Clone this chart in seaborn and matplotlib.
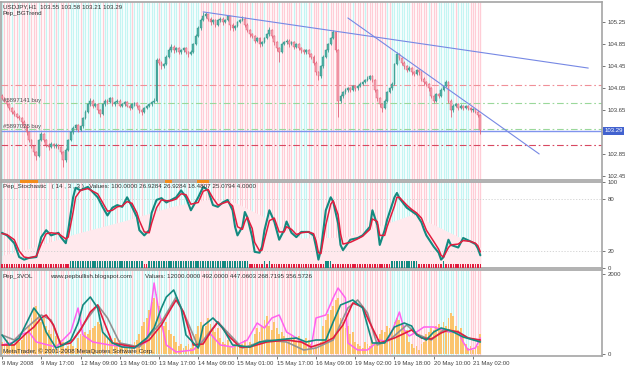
import matplotlib
matplotlib.use("Agg")
import matplotlib.pyplot as plt
import matplotlib.transforms as mtrans
import numpy as np
import pandas as pd
import seaborn as sns

sns.set_style("white")
plt.rcParams["font.family"] = ["Liberation Sans", "DejaVu Sans"]

# ---------------------------------------------------------------------------
# USDJPY H1, 9 May 2008 .. 21 May 2008 -- prices in pips above 103.00
# ---------------------------------------------------------------------------
FIRST_OPEN = 90
CLOSE = [
    86, 82, 75, 68, 61, 57, 53, 50, 43, 35,
    24, 10, -1, -12, -19, 10, 21, 10, 1, -3,
    3, -1, 1, -3, -12, -26, -8, 10, 24, 32,
    37, 28, 35, 50, 61, 75, 82, 72, 75, 64,
    57, 75, 82, 79, 86, 75, 79, 82, 72, 75,
    79, 73, 68, 75, 77, 72, 64, 61, 68, 72,
    75, 79, 82, 155, 151, 144, 148, 162, 173, 180,
    173, 177, 170, 173, 177, 170, 166, 170, 184, 199,
    213, 228, 235, 239, 231, 224, 228, 220, 228, 231,
    224, 228, 235, 220, 213, 217, 224, 228, 231, 220,
    210, 202, 199, 191, 195, 184, 188, 195, 202, 210,
    199, 188, 177, 170, 184, 188, 191, 184, 188, 180,
    184, 177, 173, 170, 173, 166, 162, 151, 133, 126,
    144, 162, 173, 184, 195, 206, 173, 82, 90, 97,
    101, 104, 101, 108, 104, 108, 112, 115, 119, 122,
    126, 119, 101, 86, 75, 68, 82, 97, 104, 112,
    148, 166, 159, 151, 144, 137, 141, 133, 130, 137,
    133, 122, 115, 112, 104, 90, 82, 93, 90, 101,
    108, 115, 82, 64, 72, 75, 68, 72, 68, 72,
    68, 64, 66, 62, 55, 29,
]
HIGH = [
    93, 88, 84, 77, 70, 64, 60, 56, 52, 46,
    37, 26, 13, 2, -9, 13, 25, 23, 12, 4,
    6, 5, 4, 3, -1, -10, -5, 13, 27, 35,
    40, 39, 38, 53, 64, 78, 86, 84, 78, 77,
    66, 78, 85, 84, 89, 88, 82, 85, 84, 78,
    81, 81, 75, 78, 80, 79, 74, 66, 70, 74,
    77, 81, 86, 159, 160, 154, 151, 165, 177, 184,
    182, 180, 179, 176, 180, 179, 172, 173, 187, 202,
    217, 232, 243, 242, 240, 233, 231, 230, 231, 234,
    233, 231, 238, 236, 222, 220, 227, 231, 235, 233,
    222, 212, 205, 201, 198, 197, 191, 198, 205, 215,
    212, 201, 190, 179, 186, 191, 194, 193, 191, 190,
    187, 186, 179, 176, 176, 175, 168, 164, 153, 136,
    147, 165, 176, 187, 198, 211, 209, 175, 94, 100,
    104, 107, 106, 111, 110, 111, 115, 118, 122, 126,
    129, 128, 121, 103, 88, 77, 85, 100, 107, 116,
    151, 170, 168, 161, 153, 146, 144, 143, 136, 140,
    139, 135, 124, 117, 114, 106, 92, 96, 95, 104,
    111, 119, 117, 84, 75, 78, 77, 75, 74, 74,
    74, 70, 69, 68, 64, 58,
]
LOW = [
    83, 79, 72, 65, 58, 54, 50, 46, 40, 32,
    20, 6, -4, -16, -26, -21, 8, 6, -2, -7,
    -5, -4, -4, -6, -15, -39, -29, -10, 8, 22,
    29, 25, 26, 33, 48, 59, 73, 69, 70, 60,
    52, 55, 73, 76, 77, 72, 73, 77, 70, 70,
    73, 70, 65, 66, 73, 69, 60, 56, 59, 66,
    70, 73, 77, 80, 146, 140, 141, 146, 160, 171,
    169, 171, 166, 167, 171, 166, 162, 164, 168, 182,
    197, 211, 226, 232, 227, 220, 221, 216, 218, 225,
    220, 222, 226, 210, 208, 211, 215, 222, 226, 216,
    206, 198, 195, 186, 188, 180, 181, 186, 193, 200,
    195, 183, 172, 152, 168, 182, 185, 180, 182, 176,
    177, 173, 169, 166, 167, 162, 157, 146, 128, 119,
    123, 142, 160, 171, 182, 193, 170, 52, 78, 87,
    94, 98, 97, 99, 100, 102, 106, 110, 113, 117,
    120, 115, 97, 81, 70, 62, 66, 80, 95, 102,
    110, 146, 155, 147, 140, 133, 135, 129, 126, 128,
    129, 118, 111, 108, 100, 86, 78, 80, 86, 88,
    99, 106, 78, 52, 62, 70, 65, 66, 64, 66,
    65, 61, 62, 59, 53, 21,
]
VOLUME = [
    300, 250, 350, 200, 300, 250, 400, 300, 350, 450, 500,
    700, 900, 1100, 1200, 1000, 800, 900, 700,
    600, 500, 650, 450, 400, 350, 300,
    150, 200, 250, 200, 150,
    400, 500, 450, 550, 500, 600, 650, 700,
    800, 750, 600, 500,
    400, 450, 350, 400, 300, 350,
    200, 150, 200, 250, 200, 300, 350,
    500, 700, 800, 900, 1100, 1300, 1400,
    1500, 1200,
    900, 700, 800, 600, 500, 450,
    300, 200, 250, 150, 200, 250,
    150, 300, 500, 700,
    800, 650, 700, 900, 750, 600, 550, 650,
    400, 300, 250, 350, 200, 150, 250, 300, 200, 250, 350, 200, 300, 250,
    500, 650, 550, 700, 850, 950, 700, 600, 800, 650, 500, 550,
    450, 400, 350, 500, 400, 300, 450, 350, 300, 400, 350,
    250, 150, 200, 250, 300,
    700, 850, 1000, 1100, 1200, 1350, 1400,
    900, 800, 650, 700, 500, 550,
    300, 250, 200, 150, 300, 250, 200, 350, 250, 300,
    500, 600, 550, 700, 650, 600, 800,
    900, 850, 750, 700, 600,
    300, 250, 150, 200, 100, 250, 300,
    500, 550, 650, 600, 700, 750, 650, 800, 700,
    900, 1025, 950,
    700, 600, 650, 500,
    250, 150, 200, 100, 150, 200,
    490,
]

# background trend per bar: p = pink, c = cyan
BG_TREND = (
    "cpppcppcpp" "pcpppcppcp" "pcpcppcpcc" "ccpcccpccc" "cpcccccpcc"
    "cccpcccpcc" "ccccpcccpc" "ccpcccpccc" "cppppcpppp" "cpppppcppp"
    "ppcppppcpp" "pppcpppppc" "ppcccpcppp" "cppcpppppp" "pppcppppcp"
    "pppppppcpc" "cccccccppp" "ppppcpppcc" "cccccpcccc" "cppppp"
)
# stochastic trend row (run lengths)
TREND_RUNS = [("r", 28), ("t", 30), ("r", 2), ("t", 41), ("r", 6), ("t", 1),
              ("r", 1), ("t", 1), ("r", 22), ("t", 3), ("r", 24), ("t", 11),
              ("r", 10), ("t", 1), ("r", 15)]
SIGNAL_BARS = [8, 9, 10, 11, 12, 13, 14, 67, 68, 69, 80, 81, 82, 83, 84]

# stochastic (14,3,3)
K_BARS = [0, 2, 5, 7, 9, 11, 14, 16, 18, 20, 23, 24, 26, 27, 29, 30, 32, 35, 39, 41,
          43, 45, 47, 49, 51, 53, 55, 56, 58, 60, 61, 63, 65, 67, 69, 71, 73, 75, 77, 80,
          82, 84, 86, 88, 90, 92, 94, 95, 96, 98, 99, 100, 102, 103, 105, 106, 107, 109, 111, 113,
          115, 116, 118, 120, 122, 125, 127, 128, 129, 130, 132, 134, 135, 137, 138, 139, 142, 145, 147, 150,
          151, 153, 154, 156, 157, 160, 161, 162, 165, 167, 169, 171, 172, 173, 176, 178, 179, 180, 182, 183,
          186, 188, 191, 193, 194, 195]
K_VALS = [41, 38, 29, 13, 10, 12, 13, 36, 44, 38, 41, 36, 29, 44, 82, 93, 90, 94, 82, 71,
          61, 70, 73, 71, 82, 71, 59, 44, 38, 44, 64, 79, 81, 76, 79, 82, 90, 82, 67, 82,
          94, 90, 73, 71, 76, 79, 67, 48, 38, 48, 65, 59, 36, 19, 18, 25, 44, 67, 54, 33,
          44, 54, 41, 36, 42, 42, 38, 25, 10, 21, 67, 82, 77, 52, 27, 21, 33, 35, 38, 48,
          67, 50, 27, 44, 56, 82, 87, 81, 70, 66, 62, 53, 45, 38, 25, 18, 10, 13, 33, 27,
          24, 35, 31, 28, 23, 15]
D_VALS = [40, 39, 33, 20, 13, 12, 14, 28, 40, 41, 40, 38, 34, 36, 65, 82, 90, 92, 86, 76,
          66, 67, 71, 72, 77, 75, 64, 55, 42, 41, 52, 70, 79, 78, 78, 80, 86, 85, 74, 76,
          89, 91, 81, 73, 75, 77, 72, 60, 48, 45, 54, 59, 46, 30, 20, 21, 33, 55, 58, 42,
          42, 48, 45, 39, 41, 42, 40, 32, 18, 17, 50, 74, 78, 62, 40, 28, 30, 34, 37, 45,
          57, 54, 38, 38, 48, 72, 82, 82, 73, 68, 64, 58, 51, 44, 31, 22, 15, 13, 24, 27,
          28, 32, 31, 29, 26, 19]
FILL_BARS = [0, 10, 30, 50, 70, 85, 95, 105, 122, 140, 155, 167, 172, 195]
FILL_VALS = [15, 22, 40, 55, 72, 80, 76, 62, 35, 36, 50, 62, 56, 24]

# Pep_3VOL lines
TEAL_B = [0, 3, 7, 10, 13, 16, 18, 22, 25, 28, 31, 33, 36, 39, 41, 45, 49, 54, 59, 62,
          65, 67, 70, 73, 75, 80, 82, 86, 90, 94, 101, 105, 112, 116, 120, 124, 128, 132, 135, 138,
          141, 143, 147, 151, 156, 160, 164, 167, 169, 173, 176, 179, 182, 184, 188, 195]
TEAL_V = [475, 225, 400, 775, 1150, 900, 550, 150, 225, 350, 775, 1225, 1425, 1150, 550, 275, 175, 150, 400, 650,
          1150, 1425, 1600, 1150, 475, 150, 700, 900, 650, 225, 175, 300, 350, 375, 400, 300, 350, 350, 800, 1225,
          1300, 1350, 1150, 275, 275, 675, 775, 700, 475, 350, 550, 650, 600, 550, 425, 300]
RED_B = [0, 5, 7, 10, 13, 16, 18, 21, 24, 28, 32, 36, 39, 41, 45, 54, 60, 65, 69, 71,
         74, 78, 82, 85, 88, 92, 97, 101, 108, 116, 122, 126, 131, 135, 139, 143, 147, 150, 154, 160,
         167, 171, 175, 179, 182, 186, 190, 195]
RED_V = [225, 225, 350, 525, 675, 900, 975, 725, 225, 275, 600, 1050, 1225, 900, 275, 175, 350, 725, 1150, 1350,
         1050, 225, 250, 550, 800, 475, 175, 175, 300, 350, 300, 175, 275, 400, 725, 1275, 1175, 775, 275, 400,
         600, 400, 375, 525, 600, 550, 400, 350]
GRAY_B = [0, 5, 10, 16, 20, 24, 29, 35, 39, 43, 48, 56, 65, 71, 75, 80, 84, 88, 93, 98,
          108, 116, 123, 128, 135, 141, 145, 149, 153, 158, 165, 169, 175, 180, 186, 190, 195]
GRAY_V = [475, 350, 650, 975, 850, 225, 350, 900, 1225, 900, 275, 175, 800, 1425, 900, 175, 500, 800, 475, 150,
          350, 300, 100, 150, 350, 1150, 1350, 1025, 225, 350, 725, 500, 350, 600, 550, 400, 325]
MAG_B = [0, 5, 7, 11, 14, 22, 28, 31, 33, 37, 44, 54, 59, 62, 64, 67, 71, 78, 82, 85,
         89, 94, 100, 104, 107, 110, 113, 116, 120, 126, 128, 132, 135, 137, 140, 141, 145, 149, 154, 157,
         160, 162, 164, 166, 169, 172, 176, 182, 186, 188, 190, 193, 195]
MAG_V = [225, 300, 475, 550, 300, 175, 550, 1150, 475, 300, 225, 150, 300, 1775, 1050, 225, 50, 100, 350, 500,
         225, 175, 350, 775, 650, 900, 975, 550, 400, 150, 900, 975, 1400, 1650, 1400, 275, 100, 100, 350, 300,
         725, 1050, 600, 450, 550, 675, 675, 550, 550, 300, 100, 150, 400]

# chart objects: (price, colour, style)
LEVELS = [(104.10, "#f09098", "dashdot"), (103.77, "#9ad89a", "dashdot"),
          (103.30, "#9ad89a", "dashdot"), (103.27, "#8094ee", "solid"),
          (103.01, "#d84860", "dashdot")]
ORDER_LABELS = [(103.77, "#5897141 buy"), (103.30, "#5897025 buy")]
TREND_A = ([82, 239], [105.43, 104.41])
TREND_B = ([141, 219], [105.32, 102.85])

PRICE_TICKS = [102.45, 102.85, 103.25, 103.65, 104.05, 104.45, 104.85, 105.25]
LAST_PRICE = 103.29
TIME_TICKS = list(range(0, 193, 16))
TIME_LABELS = ["9 May 2008", "9 May 17:00", "12 May 09:00", "13 May 01:00", "13 May 17:00",
               "14 May 09:00", "15 May 01:00", "15 May 17:00", "16 May 09:00", "19 May 02:00",
               "19 May 18:00", "20 May 10:00", "21 May 02:00"]

n = len(CLOSE)
assert len(HIGH) == n and len(LOW) == n and len(VOLUME) == n and len(BG_TREND) == n
assert sum(r for _, r in TREND_RUNS) == n

bars = np.arange(n)
close = 103 + np.array(CLOSE) / 100
high = 103 + np.array(HIGH) / 100
low = 103 + np.array(LOW) / 100
# FX hourly bars open at the previous close
opens = np.concatenate([[103 + FIRST_OPEN / 100], close[:-1]])
trend_row = "".join(c * r for c, r in TREND_RUNS)

# ---------------------------------------------------------------------------
W, H = 625, 368
PINK, CYAN = "#ffcdd6", "#c4f5f3"
TEAL, RED = "#138a80", "#e21c3e"
TXT = "#303030"
FS = 4.3

fig = plt.figure(figsize=(W / 100, H / 100), dpi=100)
fig.patch.set_facecolor("white")

def px_rect(x0, y0, x1, y1):
    return [x0 / W, 1 - y1 / H, (x1 - x0) / W, (y1 - y0) / H]

ax_p = fig.add_axes(px_rect(1, 2, 602, 180))
ax_s = fig.add_axes(px_rect(1, 181.7, 602, 268.3))
ax_v = fig.add_axes(px_rect(1, 270, 602, 356))
XLIM = (-0.41, 244.6)

for ax in (ax_p, ax_s, ax_v):
    ax.set_xlim(*XLIM)
    ax.vlines(bars, 0, 1, transform=ax.get_xaxis_transform(),
              colors=[PINK if c == "p" else CYAN for c in BG_TREND], lw=0.95, zorder=0)
    for s in ax.spines.values():
        s.set_color("#a4a4a4")
        s.set_linewidth(1.2)
    ax.yaxis.tick_right()
    ax.tick_params(axis="y", which="both", left=False, right=True, labelleft=False,
                   labelright=True, length=2, width=0.5, pad=2, labelsize=FS,
                   colors="#404040")
    ax.tick_params(axis="x", bottom=False, labelbottom=False)
    ax.grid(False)
    ax.set_facecolor("white")

# ---- price panel ----
ax_p.set_ylim(102.377, 105.61)
ax_p.set_yticks(PRICE_TICKS)
# the tick label next to the last price is covered by the last-price box
ax_p.set_yticklabels(["" if abs(t - LAST_PRICE) < 0.1 else f"{t:.2f}" for t in PRICE_TICKS])
for price, col, style in LEVELS:
    if style == "solid":
        ax_p.axhline(price, color=col, lw=1.0, zorder=2)
    else:
        ax_p.axhline(price, color=col, lw=0.8, ls=(0, (6, 2.5, 1.5, 2.5)), zorder=2)
for price, label in ORDER_LABELS:
    ax_p.text(0.5, price + 0.01, label, fontsize=FS, color="#505050", va="bottom", ha="left", zorder=6)

up = close >= opens
ax_p.vlines(bars, low, high, colors=np.where(up, "#2f9488", "#e05a72"), lw=0.55, zorder=3)
ax_p.bar(bars, np.maximum(np.abs(close - opens), 0.01), bottom=np.minimum(opens, close),
         width=0.72, color=np.where(up, "#52b0a4", "#f5a2b0"),
         edgecolor=np.where(up, "#2f9488", "#e05a72"), linewidth=0.3, zorder=4)
ax_p.plot(*TREND_A, color="#7688e4", lw=0.8, zorder=5)
ax_p.plot(*TREND_B, color="#7688e4", lw=0.8, zorder=5)
blend = mtrans.blended_transform_factory(ax_p.transAxes, ax_p.transData)
ax_p.text(1.004, 103.27, f"{LAST_PRICE:.2f}", transform=blend, fontsize=FS, color="white",
          va="center", ha="left", zorder=10, clip_on=False,
          bbox=dict(boxstyle="square,pad=0.25", fc="#4262cf", ec="none"))

# ---- stochastic panel ----
ax_s.set_ylim(0, 100)
ax_s.set_yticks([0, 20, 80, 100])
ax_s.fill_between(FILL_BARS, 0, FILL_VALS, color="#ffe9ed", lw=0, zorder=1)
for lvl in (20, 80):
    ax_s.axhline(lvl, color="#cfcfcf", lw=0.6, ls=(0, (1.5, 2)), zorder=2)
row_h = np.where(np.array(list(trend_row)) == "t", 7.5, 4.0)
ax_s.bar(bars, row_h, bottom=0.4, width=0.62,
         color=[TEAL if c == "t" else RED for c in trend_row], lw=0, zorder=3)
ax_s.bar(SIGNAL_BARS, 3.2, bottom=98.8, width=1.0, color="#f28c1c", lw=0, zorder=8, clip_on=False)
stoch = pd.DataFrame({"bar": K_BARS, "k": K_VALS, "d": D_VALS})
sns.lineplot(data=stoch, x="bar", y="k", ax=ax_s, color=TEAL, lw=1.5, zorder=4)
sns.lineplot(data=stoch, x="bar", y="d", ax=ax_s, color=RED, lw=1.1, zorder=5)
ax_s.set_xlabel("")
ax_s.set_ylabel("")

# ---- volume panel ----
ax_v.set_ylim(-50, 2100)
ax_v.set_yticks([0, 2000])
ax_v.bar(bars, VOLUME, width=0.75, color="#fbc46e", lw=0, zorder=2)
for b, v, col, lw in [(MAG_B, MAG_V, "#ff60f0", 1.1), (GRAY_B, GRAY_V, "#929292", 1.2),
                      (RED_B, RED_V, RED, 1.2), (TEAL_B, TEAL_V, TEAL, 1.2)]:
    sns.lineplot(x=b, y=v, ax=ax_v, color=col, lw=lw, zorder=4)
ax_v.set_xlabel("")
ax_v.set_ylabel("")
ax_v.set_xticks(TIME_TICKS)
ax_v.set_xticklabels(TIME_LABELS)
ax_v.tick_params(axis="x", bottom=True, labelbottom=True, length=2, width=0.5, pad=1.5,
                 labelsize=FS, colors="#404040")
for lbl in ax_v.get_xticklabels():
    lbl.set_ha("left")

# ---- captions ----
def ftext(x, y, s, **kw):
    fig.text(x / W, 1 - y / H, s, fontsize=FS + 0.2, color=TXT, va="center", ha="left", zorder=20, **kw)

ftext(3, 6.5, "USDJPY,H1  103.55 103.58 103.21 103.29")
ftext(3, 13, "Pep_BGTrend")
ftext(3, 186.5, "Pep_Stochastic   ( 14 , 3 , 3 )   Values: 100.0000 26.9284 26.9284 18.4807 25.0794 4.0000")
ftext(3, 276.5, "Pep_3VOL")
ftext(50, 276.5, "www.pepbullish.blogspot.com")
ftext(145, 276.5, "Values: 12000.0000 492.0000 447.0603 268.7195 356.5726")
ftext(3, 351.5, "MetaTrader, \u00a9 2001-2008 MetaQuotes Software Corp.")

fig.savefig("out.png", dpi=100)
